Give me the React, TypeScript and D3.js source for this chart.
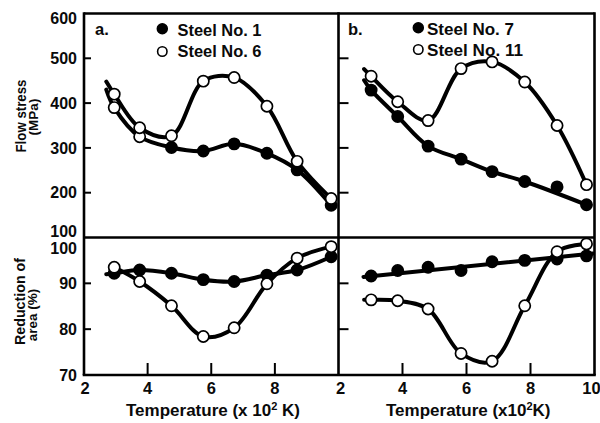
import React from "react";
import * as d3 from "d3";

// ---------- Data ----------
// Panel a.
const tempsA = [2.95, 3.75, 4.75, 5.75, 6.72, 7.75, 8.7, 9.77];
const stressSteel1 = [390, 325, 301, 293, 309, 288, 251, 172];
const stressSteel6 = [420, 345, 327, 449, 457, 393, 270, 187];
const areaSteel1 = [92.2, 92.9, 92.2, 90.8, 90.4, 91.8, 92.9, 95.8];
const areaSteel6 = [93.5, 90.4, 85.1, 78.4, 80.3, 89.9, 95.5, 98.0];
// points of Steel No. 1 (flow stress) printed hollow in the source figure
const hollowStressSteel1 = [0, 1];
// where the drawn curves begin (before the first marker)
const curveStartTempA = 2.7;
const curveStartStressSteel1 = 430;
const curveStartStressSteel6 = 448;
const curveStartAreaSteel1 = 92.0;

// Panel b.
const tempsB = [3.02, 3.85, 4.8, 5.83, 6.8, 7.82, 8.83, 9.75];
const stressSteel7 = [429, 370, 304, 275, 247, 225, 213, 173];
const stressSteel11 = [460, 403, 361, 477, 492, 447, 350, 218];
const areaSteel7 = [91.6, 92.8, 93.5, 92.8, 94.7, 95.0, 95.3, 96.0];
const areaSteel11 = [86.4, 86.2, 84.4, 74.7, 73.0, 85.1, 96.9, 98.6];
const curveStartTempB = 2.8;
const curveStartStressSteel7 = 451;
const curveStartStressSteel11 = 476;
const curveStartAreaSteel11 = 86.4;
// smoothed curve of Steel No. 7 (flow stress) leaves out the 8.8 point
const curveSkipStressSteel7 = [6];
// straight fitted line for Steel No. 7 (reduction of area)
const fitTempsAreaSteel7 = [2.78, 9.95];
const fitAreaSteel7 = [91.4, 96.5];

// Ticks
const stressTicks = [600, 500, 400, 300, 200, 100];
const stressInnerTicks = [500, 400, 300, 200];
const areaTicks = [100, 90, 80, 70];
const areaInnerTicks = [90, 80];
const tempTicksA = [2, 4, 6, 8];
const tempTicksB = [2, 4, 6, 8, 10];
const tempInnerTicks = [4, 6, 8];

const legendA = ["Steel No. 1", "Steel No. 6"];
const legendB = ["Steel No. 7", "Steel No. 11"];

// ---------- Layout ----------
const W = 600;
const H = 423;
const X0 = 84;
const XM = 338.5;
const X1 = 594.5;
const YT = 13.5;
const YM = 237.5;
const YB = 375;

const FONT = "'Liberation Sans', Arial, Helvetica, sans-serif";

type Pt = [number, number];

const zip = (t: number[], v: number[]): Pt[] => t.map((d, i) => [d, v[i]]);

export default function App() {
  const xA = d3.scaleLinear().domain([2, 10]).range([X0, XM]);
  const xB = d3.scaleLinear().domain([2, 10]).range([XM, X1]);
  const yS = d3.scaleLinear().domain([100, 600]).range([YM, YT]);
  const yR = d3.scaleLinear().domain([70, 100]).range([YB, YM]);

  const curve = (x: d3.ScaleLinear<number, number>, y: d3.ScaleLinear<number, number>, pts: Pt[], straight = false) =>
    d3
      .line<Pt>()
      .x((d) => x(d[0]))
      .y((d) => y(d[1]))
      .curve(straight ? d3.curveLinear : d3.curveCatmullRom.alpha(0.5))(pts) || "";

  type Series = {
    x: d3.ScaleLinear<number, number>;
    y: d3.ScaleLinear<number, number>;
    markers: Pt[];
    line: Pt[];
    filled: boolean;
    hollow?: number[];
    straight?: boolean;
  };

  const series: Series[] = [
    {
      x: xA, y: yS, filled: true, hollow: hollowStressSteel1,
      markers: zip(tempsA, stressSteel1),
      line: [[curveStartTempA, curveStartStressSteel1], ...zip(tempsA, stressSteel1)],
    },
    {
      x: xA, y: yS, filled: false,
      markers: zip(tempsA, stressSteel6),
      line: [[curveStartTempA, curveStartStressSteel6], ...zip(tempsA, stressSteel6)],
    },
    {
      x: xA, y: yR, filled: true,
      markers: zip(tempsA, areaSteel1),
      line: [[curveStartTempA, curveStartAreaSteel1], ...zip(tempsA, areaSteel1)],
    },
    {
      x: xA, y: yR, filled: false,
      markers: zip(tempsA, areaSteel6),
      line: zip(tempsA, areaSteel6),
    },
    {
      x: xB, y: yS, filled: true,
      markers: zip(tempsB, stressSteel7),
      line: [
        [curveStartTempB, curveStartStressSteel7],
        ...zip(tempsB, stressSteel7).filter((_, i) => !curveSkipStressSteel7.includes(i)),
      ],
    },
    {
      x: xB, y: yS, filled: false,
      markers: zip(tempsB, stressSteel11),
      line: [[curveStartTempB, curveStartStressSteel11], ...zip(tempsB, stressSteel11)],
    },
    {
      x: xB, y: yR, filled: true, straight: true,
      markers: zip(tempsB, areaSteel7),
      line: zip(fitTempsAreaSteel7, fitAreaSteel7),
    },
    {
      x: xB, y: yR, filled: false,
      markers: zip(tempsB, areaSteel11),
      line: [[curveStartTempB, curveStartAreaSteel11], ...zip(tempsB, areaSteel11)],
    },
  ];

  const clamp = (v: number, lo: number, hi: number) => Math.max(lo, Math.min(hi, v));

  const textStyle = { fontFamily: FONT, fontWeight: 700, fill: "#0a0a0a" } as const;

  return (
    <svg
      width={W}
      height={H}
      viewBox={`0 0 ${W} ${H}`}
      style={{ position: "absolute", left: 0, top: 0, background: "#fff" }}
    >
      <rect x={0} y={0} width={W} height={H} fill="#fff" />

      {/* frame */}
      <g stroke="#000" strokeWidth={2.6} fill="none">
        <line x1={X0} y1={YT} x2={X1} y2={YT} />
        <line x1={X0} y1={YM} x2={X1} y2={YM} />
        <line x1={X0 - 1.3} y1={YB} x2={X1 + 1.3} y2={YB} />
        <line x1={X0} y1={YT - 1.3} x2={X0} y2={YB} />
        <line x1={XM} y1={YT - 1.3} x2={XM} y2={YB} />
        <line x1={X1} y1={YT - 1.3} x2={X1} y2={YB} />
      </g>

      {/* inner ticks */}
      <g stroke="#000" strokeWidth={2}>
        {stressInnerTicks.map((v) => (
          <g key={"st" + v}>
            <line x1={X0} x2={X0 + 7} y1={yS(v)} y2={yS(v)} />
            <line x1={XM} x2={XM + 10} y1={yS(v)} y2={yS(v)} />
          </g>
        ))}
        {areaInnerTicks.map((v) => (
          <g key={"at" + v}>
            <line x1={X0} x2={X0 + 7} y1={yR(v)} y2={yR(v)} />
            <line x1={XM} x2={XM + 10} y1={yR(v)} y2={yR(v)} />
          </g>
        ))}
        {tempInnerTicks.map((v) => (
          <g key={"tt" + v}>
            <line x1={xA(v)} x2={xA(v)} y1={YB} y2={YB - 12} />
            <line x1={xB(v)} x2={xB(v)} y1={YB} y2={YB - 12} />
          </g>
        ))}
      </g>

      {/* y tick labels */}
      <g {...textStyle} fontSize={16} textAnchor="end">
        {stressTicks.map((v) => (
          <text key={"sl" + v} x={77} y={clamp(yS(v), YT + 5, YM - 6)} dy="0.36em">
            {v}
          </text>
        ))}
        {areaTicks.map((v) => (
          <text key={"al" + v} x={77} y={clamp(yR(v), YM + 10.5, YB + 1.5)} dy="0.36em">
            {v}
          </text>
        ))}
      </g>

      {/* x tick labels */}
      <g {...textStyle} fontSize={16.5} textAnchor="middle">
        {tempTicksA.map((v) => (
          <text key={"xa" + v} x={clamp(xA(v), X0 + 1, XM - 10)} y={393.5}>
            {v}
          </text>
        ))}
        {tempTicksB.map((v) => (
          <text key={"xb" + v} x={clamp(xB(v), XM + 2, X1 - 3)} y={393.5}>
            {v}
          </text>
        ))}
      </g>

      {/* axis titles */}
      <g {...textStyle}>
        <text x={126} y={416} fontSize={17}>
          Temperature (x 10
          <tspan fontSize={11} dy={-6.5}>2</tspan>
          <tspan dy={6.5}> K)</tspan>
        </text>
        <text x={386} y={416} fontSize={17}>
          Temperature (x10
          <tspan fontSize={11} dy={-6.5}>2</tspan>
          <tspan dy={6.5}>K)</tspan>
        </text>
        <text transform="translate(25.5,116) rotate(-90)" textAnchor="middle" fontSize={14} textLength={73} lengthAdjust="spacingAndGlyphs">
          Flow stress
        </text>
        <text transform="translate(37.5,117) rotate(-90)" textAnchor="middle" fontSize={13.5}>
          (MPa)
        </text>
        <text transform="translate(24.5,301.5) rotate(-90)" textAnchor="middle" fontSize={14} textLength={87} lengthAdjust="spacingAndGlyphs">
          Reduction of
        </text>
        <text transform="translate(37,315) rotate(-90)" textAnchor="middle" fontSize={13.5}>
          area (%)
        </text>
      </g>

      {/* curves */}
      <g fill="none" stroke="#000" strokeWidth={4} strokeLinecap="round" strokeLinejoin="round">
        {series.map((s, i) => (
          <path key={"c" + i} d={curve(s.x, s.y, s.line, s.straight)} />
        ))}
      </g>

      {/* markers */}
      <g stroke="#000" strokeWidth={1.7}>
        {series.map((s, i) =>
          s.markers.map((p, j) => (
            <circle
              key={"m" + i + "-" + j}
              cx={s.x(p[0])}
              cy={s.y(p[1])}
              r={5.6}
              fill={s.filled && !(s.hollow || []).includes(j) ? "#000" : "#fff"}
            />
          ))
        )}
      </g>

      {/* panel letters & legends */}
      <g {...textStyle} fontSize={16.5}>
        <text x={95} y={35}>a.</text>
        <text x={348} y={35}>b.</text>
        <circle cx={162.3} cy={28.8} r={5} fill="#000" stroke="#000" strokeWidth={1.5} />
        <circle cx={162.3} cy={51.5} r={4.7} fill="#fff" stroke="#000" strokeWidth={1.6} />
        <text x={177.5} y={36} textLength={84} lengthAdjust="spacingAndGlyphs">{legendA[0]}</text>
        <text x={177.5} y={56.5} textLength={84} lengthAdjust="spacingAndGlyphs">{legendA[1]}</text>
        <circle cx={418.3} cy={27.8} r={5} fill="#000" stroke="#000" strokeWidth={1.5} />
        <circle cx={418.3} cy={49.5} r={4.7} fill="#fff" stroke="#000" strokeWidth={1.6} />
        <text x={427} y={34.5} textLength={87} lengthAdjust="spacingAndGlyphs">{legendB[0]}</text>
        <text x={427} y={55.5} textLength={96} lengthAdjust="spacingAndGlyphs">{legendB[1]}</text>
      </g>
    </svg>
  );
}
